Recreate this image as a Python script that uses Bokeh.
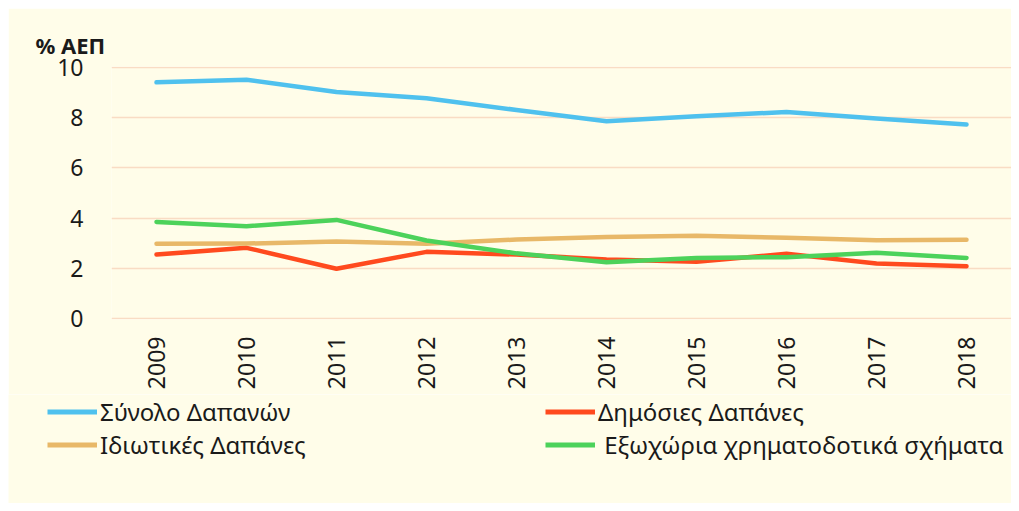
import math
from bokeh.plotting import figure
from bokeh.models import Legend, LegendItem, Title, FixedTicker, Range1d
from bokeh.embed import file_html
from bokeh.resources import INLINE

years = ["2009", "2010", "2011", "2012", "2013", "2014", "2015", "2016", "2017", "2018"]
total = [9.40, 9.50, 9.02, 8.77, 8.30, 7.85, 8.05, 8.22, 7.96, 7.72]
public = [2.55, 2.82, 1.99, 2.66, 2.55, 2.36, 2.27, 2.58, 2.20, 2.09]
private = [2.98, 2.99, 3.07, 2.98, 3.15, 3.25, 3.30, 3.22, 3.12, 3.14]
offshore = [3.85, 3.68, 3.93, 3.11, 2.60, 2.25, 2.42, 2.45, 2.62, 2.42]

names = ["Σύνολο Δαπανών", "Δημόσιες Δαπάνες", "Ιδιωτικές Δαπάνες", " Εξωχώρια χρηματοδοτικά σχήματα"]
colors = ["#4FC1EE", "#FF4A1E", "#E8B868", "#4CD25A"]
series = [total, public, private, offshore]

FONT = "Noto Sans"
BG = "#FFFDE9"
TXT = "#1A1A1A"

p = figure(x_range=years, y_range=(-0.03, 10.03), width=1003, height=386,
           frame_width=900, frame_height=253,
           min_border_left=103, min_border_right=0, min_border_top=58, min_border_bottom=75,
           output_backend="svg", toolbar_location=None, margin=(8, 8, 0, 8))
p.background_fill_color = BG
p.border_fill_color = BG
p.outline_line_color = None

for vals, c in zip(series, colors):
    p.line(years, vals, line_color=c, line_width=4.5, line_join="round", line_cap="round")

p.xgrid.grid_line_color = None
p.ygrid.grid_line_color = "#F9DCC4"
p.ygrid.grid_line_width = 1.5

p.yaxis.ticker = FixedTicker(ticks=[0, 2, 4, 6, 8, 10])
for ax in (p.xaxis[0], p.yaxis[0]):
    ax.axis_line_color = None
    ax.major_tick_line_color = None
    ax.minor_tick_line_color = None
    ax.major_tick_out = 0
    ax.major_tick_in = 0
    ax.major_label_text_font = FONT
    ax.major_label_text_font_size = "23px"
    ax.major_label_text_color = TXT
p.yaxis.major_label_standoff = 28
p.xaxis.major_label_standoff = 17
p.xaxis.major_label_orientation = math.pi / 2

p.title = Title(text="% ΑΕΠ", align="left", offset=-76, standoff=14,
                text_font=FONT, text_font_size="22px", text_font_style="bold",
                text_color=TXT)

# legend strip below the chart (same series styles; sample lines lie outside its view)
lg = figure(width=1003, height=109, x_range=Range1d(0, 1), y_range=Range1d(0, 1),
            min_border=0, x_axis_location=None, y_axis_location=None,
            output_backend="svg", toolbar_location=None, margin=(0, 8, 8, 8))
lg.background_fill_color = BG
lg.border_fill_color = BG
lg.outline_line_color = None
lg.grid.visible = False
lg_renderers = [lg.line([-3, -2], [-3, -2], line_color=c, line_width=5) for c in colors]

order = [0, 2, 1, 3]  # legend fills column by column
legend = Legend(items=[LegendItem(label=names[i], renderers=[lg_renderers[i]]) for i in order],
                ncols=2, location=(39, 42), padding=0, margin=0, spacing=0,
                glyph_width=50, glyph_height=33, label_standoff=3, label_width=445,
                label_text_font=FONT, label_text_font_size="24px", label_text_color=TXT,
                label_text_baseline="middle",
                border_line_color=None, background_fill_alpha=0)
lg.add_layout(legend, "center")

open("out.html", "w").write(file_html([p, lg], INLINE))
